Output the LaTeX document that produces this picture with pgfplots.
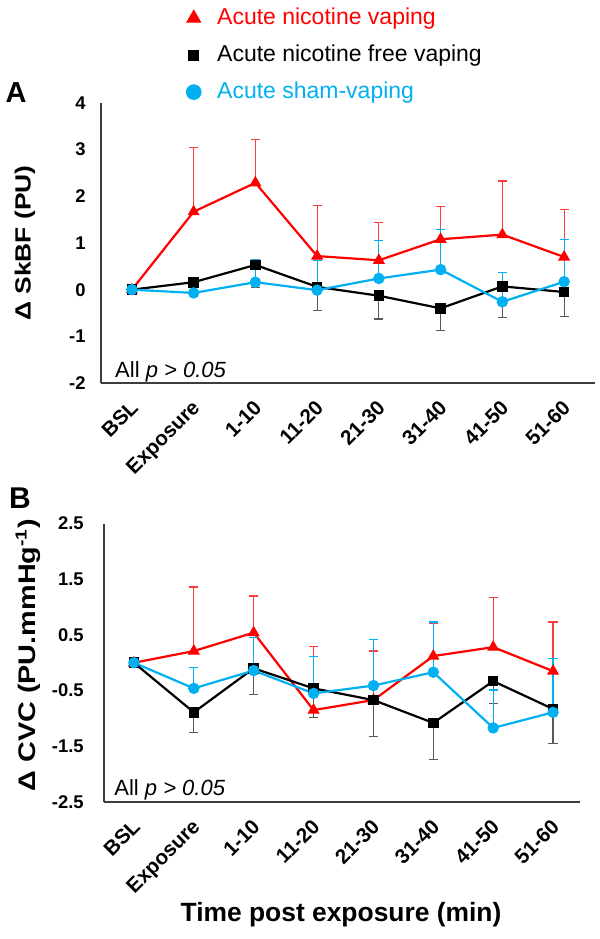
\documentclass[border=0pt]{standalone}
\usepackage{pgfplots}
\pgfplotsset{compat=1.18}
\usepackage{pgfplotstable}
\usepackage{fontspec}
\setmainfont{Liberation Sans}
\definecolor{vred}{RGB}{255,0,0}
\definecolor{vcyan}{RGB}{0,176,240}
\definecolor{errgray}{RGB}{89,89,89}
\definecolor{errred}{RGB}{255,60,60}
\definecolor{axgray}{RGB}{60,60,60}

% Panel A: Delta SkBF (PU)
\pgfplotstableread{
x y e
0 0.00 0.00
1 1.67 1.37
2 2.29 0.93
3 0.72 1.09
4 0.63 0.81
5 1.08 0.70
6 1.18 1.15
7 0.70 1.02
}\Ared
\pgfplotstableread{
x y e
0 0.00 0.00
1 0.16 0.10
2 0.53 0.48
3 0.06 0.51
4 -0.13 0.50
5 -0.40 0.47
6 0.07 0.67
7 -0.05 0.52
}\Ablack
\pgfplotstableread{
x y e
0 0.00 0.00
1 -0.07 0.27
2 0.16 0.49
3 -0.01 0.64
4 0.24 0.81
5 0.43 0.86
6 -0.26 0.63
7 0.17 0.90
}\Acyan
% Panel B: Delta CVC (PU.mmHg-1)
\pgfplotstableread{
x y e
0 0.00 0.00
1 0.21 1.15
2 0.54 0.66
3 -0.85 1.14
4 -0.67 0.88
5 0.12 0.58
6 0.28 0.89
7 -0.15 0.88
}\Bred
\pgfplotstableread{
x y e
0 0.00 0.00
1 -0.89 0.36
2 -0.10 0.47
3 -0.46 0.52
4 -0.67 0.66
5 -1.08 0.66
6 -0.33 0.40
7 -0.83 0.62
}\Bblack
\pgfplotstableread{
x y e
0 0.00 0.00
1 -0.46 0.37
2 -0.14 0.59
3 -0.55 0.66
4 -0.41 0.83
5 -0.17 0.90
6 -1.17 0.68
7 -0.89 0.96
}\Bcyan

\pgfplotsset{
  panel/.style={
    scale only axis,
    axis x line*=bottom, axis y line*=left,
    axis line style={-, axgray, line width=0.7pt},
    xmin=-0.5, xmax=7.5,
    xtick={0,...,7},
    xticklabels={BSL,Exposure,1-10,11-20,21-30,31-40,41-50,51-60},
    major tick length=0pt,
    xticklabel style={font=\fontsize{10.3}{12}\selectfont\bfseries, rotate=45, anchor=north east, inner sep=0pt, xshift=-6.5pt, yshift=-4.5pt},
    yticklabel style={font=\fontsize{9.2}{11}\selectfont\bfseries, anchor=east, inner sep=0pt},
    clip=false,
  },
  redser/.style={vred, line width=1.1pt, mark=triangle*, mark size=3pt,
    mark options={solid, fill=vred, line width=0.5pt},
    error bars/y dir=plus, error bars/y explicit,
    error bars/error bar style={errred, line width=0.6pt},
    error bars/error mark options={errred, mark size=2.3pt, line width=0.6pt, rotate=90}},
  blackser/.style={black, line width=1.1pt, mark=square*, mark size=2.4pt,
    mark options={solid, fill=black, line width=0.5pt},
    error bars/y dir=minus, error bars/y explicit,
    error bars/error bar style={errgray, line width=0.6pt},
    error bars/error mark options={errgray, mark size=2.3pt, line width=0.6pt, rotate=90}},
  cyanser/.style={vcyan, line width=1.1pt, mark=*, mark size=2.6pt,
    mark options={solid, fill=vcyan, line width=0.5pt},
    error bars/y dir=plus, error bars/y explicit,
    error bars/error bar style={vcyan, line width=0.6pt},
    error bars/error mark options={vcyan, mark size=2.3pt, line width=0.6pt, rotate=90}},
}

\begin{document}
\begin{tikzpicture}[x=1pt,y=1pt]
\useasboundingbox (0,0) rectangle (300,469.5);

% Panel A
\begin{axis}[panel,
  at={(50.5pt,278pt)}, anchor=south west,
  width=247pt, height=140pt,
  ymin=-2, ymax=4,
  ytick={-2,-1,0,1,2,3,4},
  yticklabels={-2,-1,0,1,2,3,4},
  yticklabel style={xshift=-7.5pt},
  legend style={at={(axis description cs:0.172,1.351)}, anchor=north west,
    draw=none, fill=none, inner sep=0pt, row sep=5.5pt,
    font=\fontsize{11.5}{13}\selectfont,
    nodes={inner sep=1pt, text height=8.5pt, text depth=2.5pt},
    /tikz/every odd column/.append style={column sep=7pt},
    cells={anchor=west}},
]
\addlegendimage{only marks, mark=triangle*, vred, mark size=4pt}
\addlegendentry{\textcolor{vred}{Acute nicotine vaping}}
\addlegendimage{only marks, mark=square*, black, mark size=2.5pt}
\addlegendentry{\textcolor{black}{Acute nicotine free vaping}}
\addlegendimage{only marks, mark=*, vcyan, mark size=3.7pt}
\addlegendentry{\textcolor{vcyan}{Acute sham-vaping}}

\addplot[redser, forget plot] table[x=x, y=y, y error=e] {\Ared};
\addplot[blackser, forget plot] table[x=x, y=y, y error=e] {\Ablack};
\addplot[cyanser, forget plot] table[x=x, y=y, y error=e] {\Acyan};

\node[anchor=base west, inner sep=0pt, font=\fontsize{11}{13}\selectfont]
  at (axis description cs:0.028,0.021) {All \textit{p > 0.05}};
\end{axis}

% Panel B
\begin{axis}[panel,
  at={(52pt,68.5pt)}, anchor=south west,
  width=238pt, height=139.25pt,
  ymin=-2.5, ymax=2.5,
  xmax=7.45,
  ytick={-2.5,-1.5,-0.5,0.5,1.5,2.5},
  yticklabels={-2.5,-1.5,-0.5,0.5,1.5,2.5},
  yticklabel style={xshift=-10pt},
]
\addplot[redser] table[x=x, y=y, y error=e] {\Bred};
\addplot[blackser] table[x=x, y=y, y error=e] {\Bblack};
\addplot[cyanser] table[x=x, y=y, y error=e] {\Bcyan};

\node[anchor=base west, inner sep=0pt, font=\fontsize{11}{13}\selectfont]
  at (axis description cs:0.021,0.025) {All \textit{p > 0.05}};
\end{axis}

% Panel letters and titles
\node[font=\fontsize{14.5}{16}\selectfont\bfseries, inner sep=0pt] at (8,423) {A};
\node[font=\fontsize{15}{17}\selectfont\bfseries, inner sep=0pt] at (10,220.5) {B};
\node[rotate=90, font=\fontsize{11}{13}\selectfont\bfseries, inner sep=0pt] at (12.5,348)
  {\scalebox{1.2}[1]{Δ SkBF (PU)}};
\node[rotate=90, font=\fontsize{12}{14}\selectfont\bfseries, inner sep=0pt] at (14,142)
  {\scalebox{1.2}[1]{Δ CVC (PU.mmHg\textsuperscript{-1})}};
\node[font=\fontsize{13.2}{15}\selectfont\bfseries, inner sep=0pt] at (170.5,12)
  {Time post exposure (min)};
\end{tikzpicture}
\end{document}
